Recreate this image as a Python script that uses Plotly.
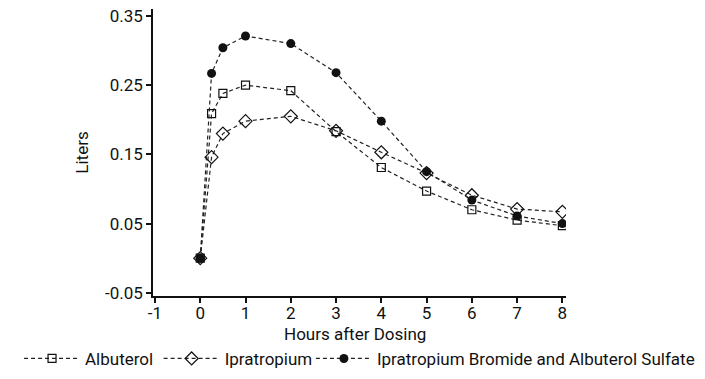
import plotly.graph_objects as go

hours = [0, 0.25, 0.5, 1, 2, 3, 4, 5, 6, 7, 8]
albuterol = [0.0, 0.209, 0.238, 0.250, 0.242, 0.183, 0.131, 0.097, 0.070, 0.055, 0.047]
ipratropium = [0.0, 0.146, 0.180, 0.198, 0.205, 0.184, 0.153, 0.123, 0.091, 0.071, 0.067]
combined = [0.0, 0.267, 0.304, 0.321, 0.310, 0.268, 0.198, 0.125, 0.084, 0.061, 0.050]

x_tickvals = [-1, 0, 1, 2, 3, 4, 5, 6, 7, 8]
x_ticktext = ["-1", "0", "1", "2", "3", "4", "5", "6", "7", "8"]
y_tickvals = [-0.05, 0.05, 0.15, 0.25, 0.35]
y_ticktext = ["-0.05", "0.05", "0.15", "0.25", "0.35"]
x_title = "Hours after Dosing"
y_title = "Liters"

FONT = "Roboto, Liberation Sans, sans-serif"
LINE = dict(color="#222222", width=1.2, dash="4px,3px")

def f(size):
    return dict(family=FONT, size=size, color="#111111")

fig = go.Figure()
fig.add_trace(go.Scatter(
    x=hours, y=albuterol, name="Albuterol", mode="lines+markers",
    line=LINE, legend="legend",
    marker=dict(symbol="square-open", size=8, color="#111111", line=dict(width=1.2, color="#111111")),
))
fig.add_trace(go.Scatter(
    x=hours, y=ipratropium, name="Ipratropium", mode="lines+markers",
    line=LINE, legend="legend2",
    marker=dict(symbol="diamond-open", size=10, color="#111111", line=dict(width=1.2, color="#111111")),
))
fig.add_trace(go.Scatter(
    x=hours, y=combined, name="Ipratropium Bromide and Albuterol Sulfate", mode="lines+markers",
    line=LINE, legend="legend3",
    marker=dict(symbol="circle", size=9, color="#111111"),
))

def leg(x):
    return dict(
        orientation="h", xref="container", yref="container",
        x=x, xanchor="left", y=0.053, yanchor="middle",
        font=f(17), bgcolor="rgba(0,0,0,0)",
        itemwidth=56, itemclick=False, itemdoubleclick=False,
    )

fig.update_layout(
    width=705, height=379,
    margin=dict(l=153, r=139, t=9, b=83, autoexpand=False),
    paper_bgcolor="white", plot_bgcolor="white",
    font=f(17),
    showlegend=True,
    legend=leg(0.027),
    legend2=leg(0.225),
    legend3=leg(0.441),
    xaxis=dict(
        range=[-1.044, 8.08], tickvals=x_tickvals, ticktext=x_ticktext,
        showgrid=False, zeroline=False, showline=True, linecolor="#111111", linewidth=1.5,
        ticks="outside", ticklen=5, tickwidth=2, tickcolor="#111111",
        tickfont=f(17), automargin=False, ticklabelstandoff=-4,
    ),
    yaxis=dict(
        range=[-0.0546, 0.360], tickvals=y_tickvals, ticktext=y_ticktext,
        showgrid=False, zeroline=False, showline=True, linecolor="#111111", linewidth=1.5,
        ticks="outside", ticklen=5, tickwidth=2, tickcolor="#111111",
        title=dict(text=y_title, font=f(17), standoff=12),
        tickfont=f(17), automargin=False,
    ),
    annotations=[dict(
        text=x_title, xref="paper", yref="paper", x=0.49, y=-0.134,
        xanchor="center", yanchor="middle", showarrow=False, font=f(17),
    )],
)

fig.write_html("out.html", post_script="document.body.style.margin='0';",
               config={"displayModeBar": False})
